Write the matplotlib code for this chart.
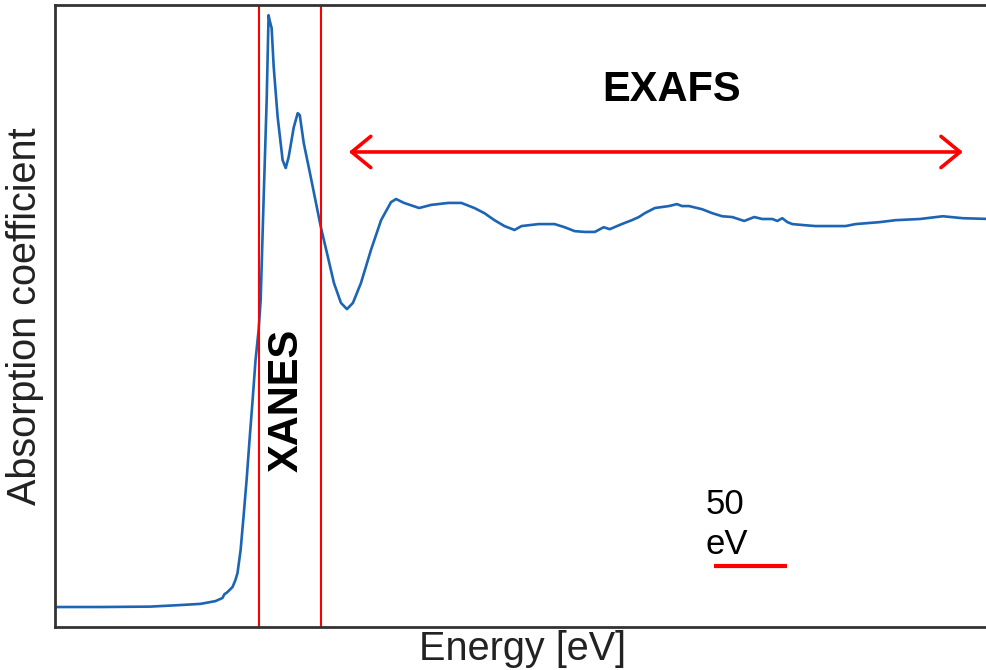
import numpy as np
import matplotlib
matplotlib.use('Agg')
import matplotlib.pyplot as plt

plt.rcParams['font.family'] = ['Liberation Sans', 'DejaVu Sans']

# energy relative to the edge (eV) and normalised absorption
energy = [-139.0, -108.2, -74.0, -53.4, -39.7, -29.5, -24.7, -23.3, -21.9, -20.5,
          -17.8, -15.8, -14.4, -12.3, -10.3, -8.2, -6.2, -4.1, -2.1, 0.0,
          1.4, 3.4, 5.5, 6.8, 7.5, 8.9, 10.3, 13.0, 16.4, 18.5,
          20.5, 24.0, 26.7, 28.1, 30.8, 35.6, 42.5, 47.3, 51.4, 56.2,
          60.3, 64.4, 69.9, 76.7, 83.6, 90.4, 93.8, 99.3, 109.6, 117.8,
          129.5, 138.4, 147.3, 154.1, 161.0, 167.8, 174.7, 179.5, 191.1, 202.1,
          208.9, 215.8, 222.6, 229.5, 235.6, 239.7, 247.9, 254.8, 259.6, 263.7,
          270.5, 280.1, 285.6, 289.0, 293.8, 302.7, 309.6, 316.4, 323.3, 331.5,
          338.4, 343.8, 350.7, 354.1, 357.5, 361.0, 364.4, 373.3, 380.1, 400.7,
          407.5, 424.0, 434.9, 451.4, 467.1, 480.8, 499.3]
mu = [0.000, 0.000, 0.001, 0.005, 0.008, 0.015, 0.023, 0.033, 0.036, 0.041,
      0.051, 0.069, 0.087, 0.145, 0.230, 0.324, 0.426, 0.528, 0.630, 0.707,
      0.783, 1.038, 1.293, 1.510, 1.497, 1.477, 1.378, 1.250, 1.140, 1.120,
      1.148, 1.224, 1.260, 1.255, 1.184, 1.097, 0.969, 0.893, 0.827, 0.776,
      0.760, 0.776, 0.827, 0.911, 0.987, 1.033, 1.041, 1.031, 1.018, 1.026,
      1.031, 1.031, 1.018, 1.005, 0.987, 0.972, 0.962, 0.972, 0.977, 0.977,
      0.969, 0.959, 0.957, 0.957, 0.969, 0.964, 0.977, 0.987, 0.995, 1.005,
      1.018, 1.023, 1.028, 1.023, 1.023, 1.015, 1.005, 0.997, 0.995, 0.985,
      0.995, 0.990, 0.990, 0.985, 0.992, 0.982, 0.977, 0.974, 0.972, 0.972,
      0.977, 0.982, 0.987, 0.990, 0.997, 0.992, 0.990]

xanes_bounds = [0.0, 42.5]
exafs_range = [61.6, 480.8]
scale_bar = [311.0, 361.0]

fig = plt.figure(figsize=(9.87, 6.7), dpi=100)
ax = fig.add_axes([55 / 987, 43 / 670, 935 / 987, 622 / 670])

ax.plot(energy, mu, color='#1c64b4', lw=1.9)
for xb in xanes_bounds:
    ax.axvline(xb, color='red', lw=1.5)

ax.annotate('', xy=(exafs_range[1], 1.161), xytext=(exafs_range[0], 1.161),
            arrowprops=dict(arrowstyle='<->, head_length=0.55, head_width=0.45',
                            color='red', lw=2.6, mutation_scale=25,
                            shrinkA=0, shrinkB=0))
ax.text(282, 1.319, 'EXAFS', fontsize=30, fontweight='bold', ha='center', va='center')
ax.text(19.2, 0.526, 'XANES', fontsize=30, fontweight='bold', ha='center', va='center',
        rotation=90)

ax.plot(scale_bar, [0.105, 0.105], color='red', lw=3, solid_capstyle='butt')
ax.text(304.8, 0.118, '50\neV', fontsize=25, ha='left', va='bottom', linespacing=1.25)

ax.set_xlim(-139.0, 499.3)
ax.set_ylim(-0.051, 1.536)
ax.set_xticks([])
ax.set_yticks([])
for s in ['left', 'top', 'bottom']:
    ax.spines[s].set_color('#333333')
    ax.spines[s].set_linewidth(2)
ax.spines['right'].set_visible(False)

ax.set_xlabel('Energy [eV]', fontsize=28.5, color='#222222', labelpad=2)
ax.set_ylabel('Absorption coefficient', fontsize=28.5, color='#222222', labelpad=8)

plt.savefig('out.png', dpi=100)
